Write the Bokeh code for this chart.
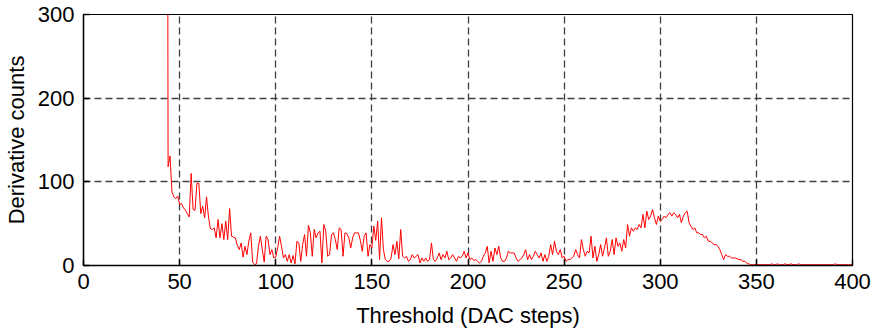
from bokeh.plotting import figure
from bokeh.models import Range1d, SingleIntervalTicker
from bokeh.embed import file_html
from bokeh.resources import INLINE

# Threshold (DAC steps), one point per step from 43 to 400
first_threshold = 43
last_threshold = 400

# Derivative counts, grouped by decade of threshold
counts_43_49 = [1500, 118, 131, 88, 82, 80, 83]
counts_50s = [73, 74, 69, 66, 62, 58, 110, 67, 66, 98]
counts_60s = [98, 62, 71, 57, 82, 58, 44, 43, 45, 33]
counts_70s = [55, 33, 50, 31, 53, 31, 68, 35, 34, 33]
counts_80s = [24, 19, 27, 10, 23, 13, 29, 39, 4, 1]
counts_90s = [2, 23, 35, 19, 4, 35, 31, 13, 19, 9]
counts_100s = [10, 21, 35, 23, 9, 13, 5, 13, 3, 12]
counts_110s = [2, 29, 27, 5, 25, 37, 11, 48, 39, 11]
counts_120s = [43, 33, 39, 41, 3, 49, 41, 11, 13, 37]
counts_130s = [39, 31, 19, 45, 43, 11, 39, 38, 33, 21]
counts_140s = [33, 39, 39, 39, 30, 17, 35, 39, 11, 25]
counts_150s = [21, 47, 30, 53, 7, 57, 19, 7, 5, 5]
counts_160s = [9, 25, 13, 29, 8, 43, 11, 9, 11, 5]
counts_170s = [7, 13, 9, 11, 13, 3, 9, 5, 9, 5]
counts_180s = [7, 27, 7, 5, 9, 15, 7, 13, 9, 17]
counts_190s = [7, 9, 13, 9, 5, 11, 9, 11, 17, 9]
counts_200s = [15, 7, 9, 6, 7, 5, 3, 5, 11, 15]
counts_210s = [23, 3, 17, 5, 21, 13, 23, 9, 5, 5]
counts_220s = [9, 17, 15, 15, 15, 9, 5, 7, 9, 13]
counts_230s = [19, 7, 13, 7, 11, 17, 13, 9, 15, 5]
counts_240s = [13, 5, 11, 25, 13, 29, 17, 13, 19, 9]
counts_250s = [11, 5, 7, 7, 9, 11, 19, 13, 9, 31]
counts_260s = [19, 11, 17, 15, 35, 9, 23, 5, 13, 25]
counts_270s = [11, 21, 33, 11, 17, 31, 13, 33, 23, 27]
counts_280s = [17, 31, 21, 49, 35, 45, 41, 45, 43, 49]
counts_290s = [45, 61, 45, 65, 55, 59, 67, 57, 49, 59]
counts_300s = [53, 55, 59, 57, 61, 63, 59, 63, 61, 57]
counts_310s = [61, 51, 59, 63, 65, 51, 47, 43, 45, 39]
counts_320s = [39, 37, 37, 33, 35, 29, 29, 27, 25, 25]
counts_330s = [23, 19, 13, 7, 13, 11, 11, 9, 9, 9]
counts_340s = [8, 7, 7, 5, 5, 3, 2, 1, 1, 1]
counts_350s = [1, 1, 1, 1, 1, 1, 1, 1, 2, 1]
counts_360s = [1, 2, 1, 1, 1, 2, 1, 1, 2, 1]
counts_370s = [1, 1, 2, 1, 1, 1, 1, 1, 1, 1]
counts_380s = [1, 1, 1, 1, 1, 1, 1, 1, 1, 1]
counts_390s = [1, 2, 1, 1, 1, 1, 1, 1, 1, 1]
counts_400 = [1]

counts = (counts_43_49 + counts_50s + counts_60s + counts_70s + counts_80s
          + counts_90s + counts_100s + counts_110s + counts_120s + counts_130s
          + counts_140s + counts_150s + counts_160s + counts_170s + counts_180s
          + counts_190s + counts_200s + counts_210s + counts_220s + counts_230s
          + counts_240s + counts_250s + counts_260s + counts_270s + counts_280s
          + counts_290s + counts_300s + counts_310s + counts_320s + counts_330s
          + counts_340s + counts_350s + counts_360s + counts_370s + counts_380s
          + counts_390s + counts_400)
thresholds = list(range(first_threshold, last_threshold + 1))
assert len(thresholds) == len(counts)

x_label = "Threshold (DAC steps)"
y_label = "Derivative counts"

FONT = "Liberation Sans"

p = figure(
    frame_width=769, frame_height=251,
    x_range=Range1d(0, 400), y_range=Range1d(0, 300),
    output_backend="svg", toolbar_location=None,
    min_border_left=75, min_border_top=14, min_border_right=19, min_border_bottom=50,
)
p.background_fill_color = "white"
p.border_fill_color = "white"
p.outline_line_color = "black"
p.outline_line_width = 1.2

p.line(thresholds, counts, line_color="#ff0000", line_width=1)

p.xaxis.ticker = SingleIntervalTicker(interval=50)
p.yaxis.ticker = SingleIntervalTicker(interval=100)

for ax in (p.xaxis[0], p.yaxis[0]):
    ax.major_tick_in = 6
    ax.major_tick_out = 0
    ax.minor_tick_in = 0
    ax.minor_tick_out = 0
    ax.axis_line_color = "black"
    ax.axis_line_width = 1.4
    ax.major_tick_line_color = "black"
    ax.major_tick_line_width = 1.4
    ax.major_label_text_font = FONT
    ax.major_label_text_font_size = "22px"
    ax.major_label_text_color = "black"
    ax.axis_label_text_font = FONT
    ax.axis_label_text_font_size = "22px"
    ax.axis_label_text_font_style = "normal"
    ax.axis_label_text_color = "black"

p.xaxis.axis_label = x_label
p.yaxis.axis_label = y_label
p.xaxis.major_label_standoff = 8
p.yaxis.major_label_standoff = 9
p.xaxis.axis_label_standoff = 11
p.yaxis.axis_label_standoff = 6

for g in (p.xgrid[0], p.ygrid[0]):
    g.grid_line_color = "#404040"
    g.grid_line_alpha = 1.0
    g.grid_line_dash = "7 4"
    g.grid_line_width = 1.3

p.xgrid.ticker = SingleIntervalTicker(interval=50)
p.ygrid.ticker = SingleIntervalTicker(interval=100)

open("out.html", "w").write(file_html(p, INLINE))
